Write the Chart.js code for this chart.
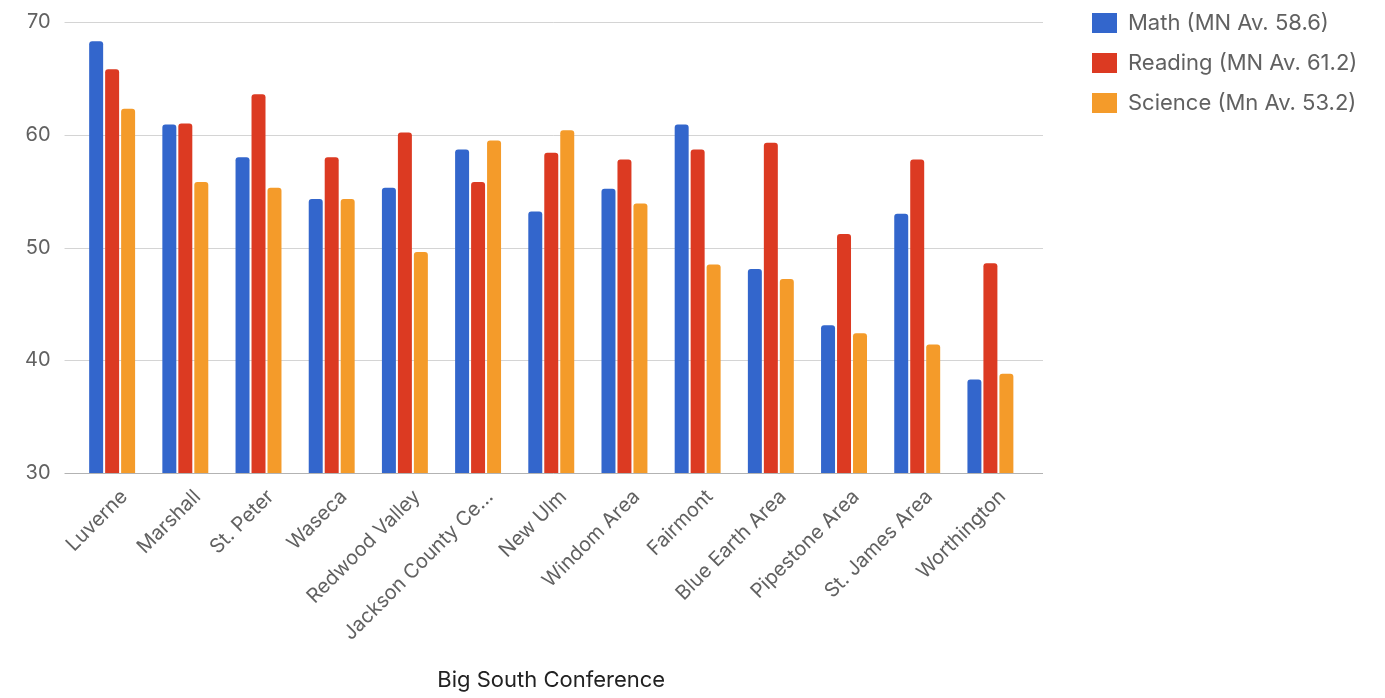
<!DOCTYPE html>
<html>
<head>
<meta charset="utf-8">
<script src="https://cdn.jsdelivr.net/npm/chart.js@4"></script>
<style>
    html, body { margin: 0; padding: 0; background: #fff; }
    .chart-div { position: relative; width: 1385px; height: 698px; }
</style>
</head>
<body>
<div class="chart-div">
    <canvas id="chart"></canvas>
</div>
<script>
const schools = [
    'Luverne', 'Marshall', 'St. Peter', 'Waseca', 'Redwood Valley',
    'Jackson County Ce…', 'New Ulm', 'Windom Area', 'Fairmont',
    'Blue Earth Area', 'Pipestone Area', 'St. James Area', 'Worthington'
];
const math = [68.3, 60.9, 58.0, 54.3, 55.3, 58.7, 53.2, 55.2, 60.9, 48.1, 43.1, 53.0, 38.3];
const reading = [65.8, 61.0, 63.6, 58.0, 60.2, 55.8, 58.4, 57.8, 58.7, 59.3, 51.2, 57.8, 48.6];
const science = [62.3, 55.8, 55.3, 54.3, 49.6, 59.5, 60.4, 53.9, 48.5, 47.2, 42.4, 41.4, 38.8];
const yTicks = [30, 40, 50, 60, 70];

const FONT = 'Inter, Roboto, "Noto Sans", Arial, sans-serif';
const TEXT_GREY = '#616161';

// google-style gridlines run a bit past the bars on both sides
const gridLines = {
    id: 'gridLines',
    beforeDatasetsDraw(chart) {
        const {ctx, chartArea, scales: {y}} = chart;
        ctx.save();
        ctx.lineWidth = 1;
        yTicks.forEach(v => {
            const py = Math.round(y.getPixelForValue(v)) + 0.5;
            ctx.strokeStyle = v === yTicks[0] ? '#b3b3b3' : '#d4d4d4';
            ctx.beginPath();
            ctx.moveTo(chartArea.left - 11, py);
            ctx.lineTo(chartArea.right + 16, py);
            ctx.stroke();
        });
        ctx.restore();
    }
};

// reserve a fixed column for the legend, items start a bit in from its left
const legendGap = {
    id: 'legendGap',
    beforeInit(chart) {
        const fit = chart.legend.fit;
        chart.legend.fit = function() {
            fit.call(this);
            this.width = 358;
        };
    },
    afterLayout(chart) {
        chart.legend.left += 47;
        chart.legend.top -= 6;
    }
};

new Chart(document.getElementById('chart'), {
    type: 'bar',
    data: {
        labels: schools,
        datasets: [
            { label: 'Math (MN Av. 58.6)', data: math, backgroundColor: '#3366cc' },
            { label: 'Reading (MN Av. 61.2)', data: reading, backgroundColor: '#dc3a22' },
            { label: 'Science (Mn Av. 53.2)', data: science, backgroundColor: '#f49b2a' }
        ]
    },
    options: {
        responsive: true,
        maintainAspectRatio: false,
        animation: false,
        layout: { padding: { left: 0, top: 0, right: 0, bottom: 0 } },
        datasets: {
            bar: {
                categoryPercentage: 0.655,
                barPercentage: 0.875,
                borderRadius: { topLeft: 3, topRight: 3 },
                borderSkipped: 'start'
            }
        },
        plugins: {
            tooltip: { enabled: false },
            legend: {
                position: 'right',
                align: 'start',
                labels: {
                    boxWidth: 25,
                    boxHeight: 20,
                    padding: 18,
                    color: TEXT_GREY,
                    font: { family: FONT, size: 22 }
                }
            }
        },
        scales: {
            x: {
                grid: { display: false, drawTicks: false },
                border: { display: false },
                ticks: {
                    autoSkip: false,
                    minRotation: 45,
                    maxRotation: 45,
                    padding: 12,
                    labelOffset: 12,
                    color: TEXT_GREY,
                    font: { family: FONT, size: 20 }
                },
                title: {
                    display: true,
                    text: 'Big South Conference',
                    color: '#222',
                    font: { family: FONT, size: 22 }
                },
                afterFit(scale) {
                    scale.height = 225;
                }
            },
            y: {
                min: 30,
                max: 70,
                grid: { display: false, drawTicks: false },
                border: { display: false },
                afterBuildTicks(scale) {
                    scale.ticks = yTicks.map(v => ({ value: v }));
                },
                afterFit(scale) {
                    scale.paddingTop = 22;
                },
                ticks: {
                    padding: 25,
                    color: TEXT_GREY,
                    font: { family: FONT, size: 20 }
                }
            }
        }
    },
    plugins: [gridLines, legendGap]
});
</script>
</body>
</html>
